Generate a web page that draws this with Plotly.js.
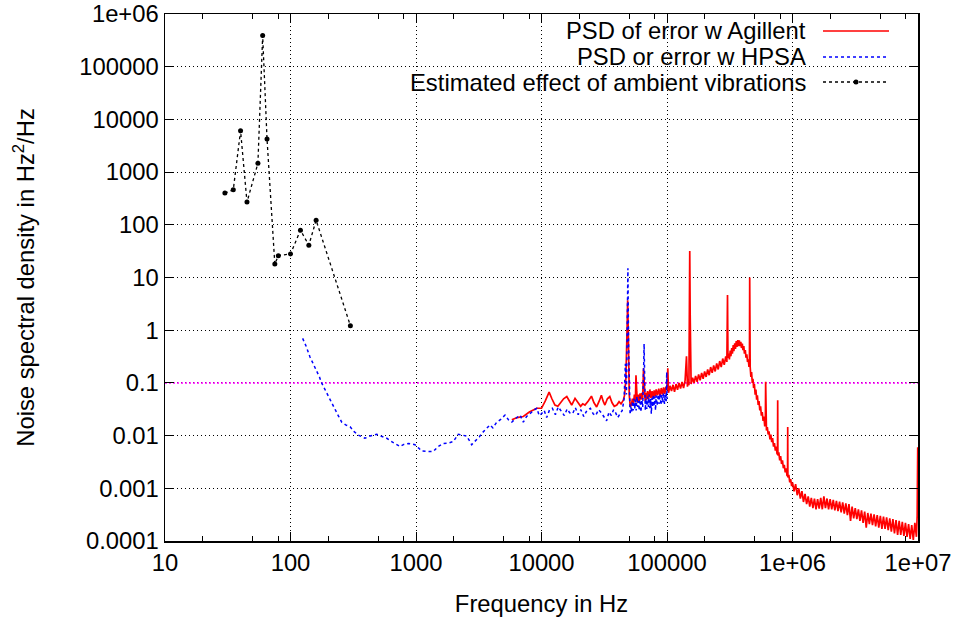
<!DOCTYPE html>
<html>
<head>
<meta charset="utf-8">
<script src="https://cdn.plot.ly/plotly-3.0.1.min.js"></script>
<style>html,body{margin:0;padding:0;background:#fff;}#plot{width:959px;height:617px;}</style>
</head>
<body>
<div id="plot"></div>
<script>
// Ambient vibration estimate (Hz, Hz^2/Hz)
const ambFreq = [30, 35, 40, 45, 55, 60, 65, 75, 80, 100, 120, 140, 160, 300];
const ambPsd  = [400, 460, 6100, 270, 1470, 390000, 4250, 18, 26, 28, 79, 41, 122, 1.22];

// PSD with HPSA (blue)
const hpsaFreq = [125,133,143,152,162,170,177,188,200,213,226,240,256,275,298,320,347,370,392,430,486,530,585,650,700,747,800,870,930,982,1050,1110,1250,1374,1500,1650,1800,1980,2170,2350,2530,2650,2780,2900,3050,3200,3340,3600,3890,4100,4400,4700,5120,5450,5800,6200,6750,7160,7600,8100,8600,9160,9600,10000,10500,11000,11600,12200,12900,13600,14400,15200,16000,16800,17700,18600,19600,20600,21700,23000,24500,25800,27000,28500,30000,31500,33000,34500,36000,37500,39000,40500,42500,44000,45500,46600,47500,48200,48800,49400,50200,50800,51500,52300,53000,53800,54500,55300,56000,56800,57600,58400,59200,60000,61000,62000,63000,64000,65000,65700,66400,67200,68000,69000,70000,71000,72000,73000,74000,75000,76000,77000,78000,79000,80000,81000,82000,83500,85000,86500,88000,89500,91000,92500,94000,95500,97000,98500,99500,100000];
const hpsaPsd = [0.70,0.5,0.31,0.23,0.176,0.13,0.1,0.075,0.055,0.04,0.031,0.024,0.018,0.016,0.0148,0.012,0.0102,0.0095,0.0089,0.0098,0.0106,0.0097,0.0089,0.0075,0.0068,0.0062,0.0068,0.0071,0.0069,0.0067,0.0058,0.0051,0.005,0.005,0.0062,0.0071,0.0072,0.0077,0.0106,0.0102,0.0098,0.0082,0.0067,0.0075,0.0083,0.0095,0.011,0.013,0.016,0.014,0.018,0.02,0.0245,0.02,0.018,0.021,0.0245,0.018,0.023,0.026,0.03,0.033,0.024,0.026,0.03,0.022,0.031,0.033,0.025,0.035,0.028,0.024,0.032,0.027,0.026,0.034,0.025,0.031,0.023,0.03,0.033,0.026,0.024,0.031,0.027,0.022,0.019,0.028,0.024,0.031,0.027,0.022,0.026,0.03,0.05,0.23,0.06,0.5,15,0.6,0.05,0.025,0.035,0.028,0.045,0.03,0.05,0.032,0.048,0.03,0.055,0.035,0.045,0.03,0.055,0.028,0.048,0.035,0.15,0.55,0.12,0.03,0.05,0.032,0.055,0.035,0.06,0.033,0.05,0.026,0.052,0.035,0.06,0.036,0.055,0.03,0.058,0.037,0.06,0.04,0.062,0.038,0.06,0.042,0.065,0.04,0.06,0.045,0.16,0.05];

// PSD with Agilent (red)
const agFreq = [5800,6400,7160,8000,9160,10000,10700,11500,12100,12800,13500,14300,15000,15900,16600,17400,18500,19500,20500,21300,22200,23500,25000,26200,27500,28800,30000,31000,32000,33500,35000,36500,38000,39800,41500,43000,44900,46000,47000,48000,48600,49200,
50000,51000,52000,53000,54000,55000,56000,56600,57300,58000,59000,60000,61000,62000,63000,64000,65000,66000,67000,68000,69000,70000,71500,73000,74500,76000,77500,79000,80500,82000,84000,86000,88000,90000,92000,94000,96000,98000,
100000,101500,102800,105700,108600,111700,114800,118000,121300,124700,128200,131800,135500,139300,143000,145500,147200,149500,150500,151800,153000,155600,160000,164400,169000,173800,178600,183700,188800,194100,199500,205100,210900,216800,222800,229100,235500,242100,248900,255900,263000,270400,278000,285800,293800,300000,303500,306000,310500,314000,319200,323000,328100,332000,337300,341000,346700,351000,356400,361000,366400,371000,376700,381000,387300,392000,398100,403000,409300,414000,420700,426000,432500,438000,444600,450000,454000,456000,458000,460000,
466000,472000,478000,484000,490000,497000,504000,511000,518000,525000,533000,541000,549000,557000,565000,574000,583000,592000,601000,608000,611000,614000,620000,630000,640000,650000,661000,672000,683000,694000,706000,718000,730000,742000,754000,760000,762000,765000,778000,791000,804000,818000,832000,846000,860000,875000,890000,905000,913000,916000,919000,935000,951000,967000,984000,
1000000,1029000,1059000,1090000,1122000,1155000,1189000,1223000,1259000,1296000,1334000,1372000,1413000,1454000,1496000,1540000,1585000,1631000,1679000,1728000,1778000,1830000,1884000,1939000,1995000,2054000,2113000,2175000,2239000,2304000,2371000,2441000,2512000,2585000,2661000,2738000,2818000,2901000,2985000,3073000,3162000,3255000,3350000,3447000,3548000,3652000,3758000,3868000,3981000,4097000,4217000,4340000,4467000,4597000,4732000,4870000,5012000,5158000,5309000,5464000,5623000,5788000,5957000,6131000,6310000,6494000,6683000,6879000,7079000,7286000,7499000,7718000,7943000,8175000,8414000,8660000,8913000,9173000,9441000,9716000,9850000,9950000,10000000];
const agPsd = [0.020,0.022,0.023,0.028,0.033,0.033,0.045,0.067,0.05,0.038,0.036,0.042,0.05,0.055,0.045,0.038,0.051,0.042,0.036,0.04,0.038,0.045,0.056,0.042,0.035,0.045,0.058,0.045,0.038,0.05,0.055,0.042,0.036,0.038,0.044,0.04,0.047,0.06,0.12,0.9,3.7,0.8,
0.06,0.035,0.038,0.05,0.04,0.06,0.045,0.14,0.05,0.042,0.06,0.045,0.063,0.048,0.065,0.05,0.19,0.055,0.045,0.065,0.048,0.07,0.05,0.075,0.052,0.07,0.05,0.072,0.055,0.075,0.058,0.078,0.056,0.08,0.06,0.082,0.062,0.085,
0.073,0.19,0.065,0.088,0.07,0.092,0.068,0.095,0.074,0.1,0.078,0.104,0.08,0.11,0.32,0.085,0.115,0.09,10,31.8,2,0.095,0.125,0.1,0.135,0.105,0.145,0.112,0.155,0.12,0.165,0.13,0.18,0.14,0.2,0.155,0.215,0.165,0.235,0.18,0.26,0.2,0.29,0.22,0.32,0.25,4.65,0.3,0.36,0.28,0.41,0.32,0.46,0.36,0.52,0.4,0.56,0.44,0.62,0.48,0.65,0.5,0.64,0.5,0.6,0.46,0.56,0.42,0.5,0.36,0.42,0.3,0.35,0.25,0.28,0.2,0.25,10,3,0.2,
0.13,0.16,0.1,0.12,0.08,0.095,0.06,0.075,0.048,0.058,0.038,0.045,0.03,0.036,0.024,0.028,0.019,0.023,0.015,0.018,0.105,0.014,0.0125,0.0145,0.0105,0.012,0.0085,0.0105,0.0075,0.009,0.0062,0.0072,0.0052,0.0062,0.0044,0.0052,0.047,0.0042,0.0048,0.0034,0.0041,0.0029,0.0034,0.0024,0.0028,0.002,0.0024,0.0017,0.002,0.0145,0.0016,0.0018,0.0013,0.0015,0.0011,
0.0013,0.00088,0.0012,0.00074,0.001,0.00064,0.00088,0.00055,0.00078,0.0005,0.0007,0.00045,0.00066,0.00042,0.00064,0.0004,0.00062,0.00041,0.00066,0.0004,0.0007,0.00042,0.00064,0.0004,0.00062,0.0004,0.0006,0.00038,0.00058,0.00037,0.00056,0.00035,0.00054,0.00033,0.00052,0.00031,0.0005,0.00024,0.00045,0.00027,0.00042,0.00026,0.0004,0.00024,0.00038,0.00022,0.00036,0.00018,0.00034,0.00021,0.00033,0.0002,0.00032,0.00019,0.00031,0.00018,0.0003,0.00017,0.00029,0.00017,0.00028,0.00016,0.00027,0.00015,0.00026,0.00014,0.00025,0.00013,0.00024,0.00013,0.00023,0.000125,0.00022,0.00012,0.00021,0.00011,0.0002,0.000105,0.00022,0.00012,0.0003,0.006,0.0015];

// Reference level
const refLevel = 0.1;

const xTickVals = [10,100,1000,10000,100000,1e6,1e7];
const xTickText = ['10','100','1000','10000','100000','1e+06','1e+07'];
const yTickVals = [1e-4,1e-3,1e-2,0.1,1,10,100,1000,1e4,1e5,1e6];
const yTickText = ['0.0001','0.001','0.01','0.1','1','10','100','1000','10000','100000','1e+06'];
const xMinorVals = [];
[10,100,1000,10000,100000,1e6].forEach(d => [2,5,8].forEach(m => xMinorVals.push(d*m)));

const legendNames = ['PSD of error w Agillent','PSD or error w HPSA','Estimated effect of ambient vibrations'];

const FONT = 'Liberation Sans, Arial, sans-serif';
const FS = 23.8;

const traces = [
  {x: [10, 1e7], y: [refLevel, refLevel], mode: 'lines', line: {color: '#ff00ff', width: 1.5, dash: '2px,2px'}, hoverinfo: 'skip'},
  {x: agFreq, y: agPsd, mode: 'lines', line: {color: '#ff0000', width: 1.7}, name: legendNames[0]},
  {x: hpsaFreq, y: hpsaPsd, mode: 'lines', line: {color: '#0000ff', width: 1.5, dash: '3px,3px'}, name: legendNames[1]},
  {x: ambFreq, y: ambPsd, mode: 'lines+markers', line: {color: '#000000', width: 1.3, dash: '3px,3px'}, marker: {color: '#000', size: 5}, name: legendNames[2]}
];

// pixel -> paper helpers for the manual legend
const L = 165, R = 918, T = 14, B = 541;
const px = v => (v - L) / (R - L);
const py = v => (B - v) / (B - T);
const rows = [31, 57, 82];
const annotations = legendNames.map((t, i) => ({
  xref: 'paper', yref: 'paper', x: px(808), y: py(rows[i]), xanchor: 'right', yanchor: 'middle',
  text: t, showarrow: false, font: {family: FONT, size: FS, color: '#000'}
}));
const shapes = [
  {type: 'rect', xref: 'paper', yref: 'paper', x0: px(263), x1: px(916), y0: py(96), y1: py(16), fillcolor: '#fff', line: {width: 0}, layer: 'between'},
  {type: 'line', xref: 'paper', yref: 'paper', x0: px(823), x1: px(889), y0: py(rows[0]), y1: py(rows[0]), line: {color: '#ff0000', width: 1.3}},
  {type: 'line', xref: 'paper', yref: 'paper', x0: px(823), x1: px(889), y0: py(rows[1]), y1: py(rows[1]), line: {color: '#0000ff', width: 1.5, dash: '3px,3px'}},
  {type: 'line', xref: 'paper', yref: 'paper', x0: px(823), x1: px(889), y0: py(rows[2]), y1: py(rows[2]), line: {color: '#000', width: 1.3, dash: '3px,3px'}},
  {type: 'circle', xref: 'paper', yref: 'paper', x0: px(853.5), x1: px(858.5), y0: py(rows[2]+2.5), y1: py(rows[2]-2.5), fillcolor: '#000', line: {width: 0}}
];

const axisCommon = {
  type: 'log', showline: true, linecolor: '#000', linewidth: 1.5, mirror: 'ticks',
  ticks: 'inside', ticklen: 9, tickwidth: 1, tickcolor: '#000',
  showgrid: true, gridcolor: '#000', gridwidth: 1, griddash: '1px,3px', zeroline: false,
  tickfont: {family: FONT, size: FS, color: '#000'}, tickmode: 'array'
};

const layout = {
  width: 959, height: 617, margin: {l: L, r: 959 - R, t: T, b: 617 - B},
  paper_bgcolor: '#fff', plot_bgcolor: '#fff', showlegend: false,
  font: {family: FONT, size: FS, color: '#000'},
  xaxis: Object.assign({}, axisCommon, {
    range: [1, 7], tickvals: xTickVals, ticktext: xTickText,
    minor: {tickmode: 'array', tickvals: xMinorVals, ticks: 'inside', ticklen: 5, tickwidth: 1, tickcolor: '#000', showgrid: false},
    title: {text: 'Frequency in Hz', font: {family: FONT, size: FS}, standoff: 20}
  }),
  yaxis: Object.assign({}, axisCommon, {
    range: [-4, 6], tickvals: yTickVals, ticktext: yTickText,
    title: {text: 'Noise spectral density in Hz<sup>2</sup>/Hz', font: {family: FONT, size: FS}, standoff: 38}
  }),
  annotations: annotations, shapes: shapes
};

Plotly.newPlot('plot', traces, layout, {staticPlot: true, displayModeBar: false});
</script>
</body>
</html>
